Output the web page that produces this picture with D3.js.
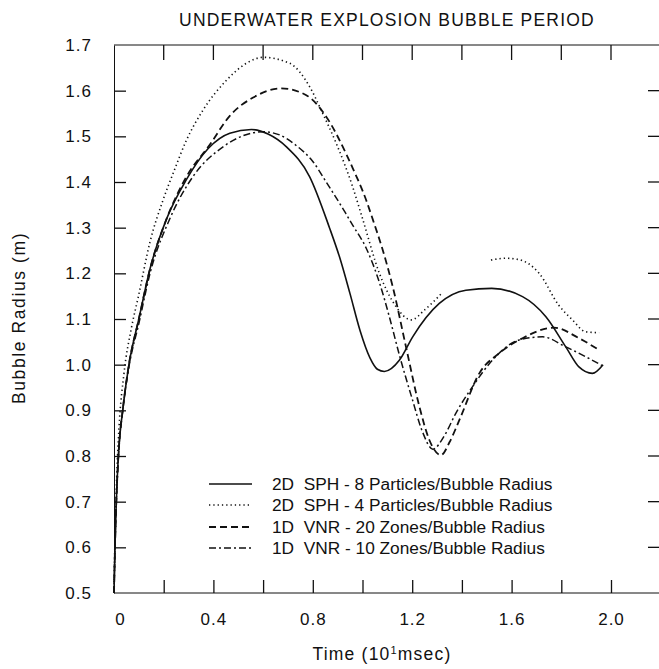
<!DOCTYPE html>
<html>
<head>
<meta charset="utf-8">
<script src="https://cdn.jsdelivr.net/npm/d3@7"></script>
<style>
  body { margin: 0; background: #fff; }
  svg { display: block; font-family: "Liberation Sans", Arial, sans-serif; }
</style>
</head>
<body>
<svg width="659" height="669"></svg>
<script>
// values: [time (10^1 msec), bubble radius (m)]
var sph8 = [[0,0.5],[0.004,0.6],[0.008,0.68],[0.013,0.75],[0.02,0.82],[0.035,0.9],[0.06,1.0],[0.1,1.1],[0.145,1.21],[0.21,1.317],[0.29,1.404],[0.38,1.474],[0.466,1.507],[0.553,1.515],[0.62,1.505],[0.694,1.477],[0.787,1.412],[0.867,1.30],[0.908,1.235],[0.95,1.155],[0.99,1.075],[1.03,1.015],[1.06,0.99],[1.088,0.985],[1.149,1.01],[1.202,1.061],[1.309,1.134],[1.416,1.163],[1.52,1.167],[1.644,1.149],[1.738,1.105],[1.818,1.039],[1.871,0.995],[1.925,0.981],[1.968,1.0]];
var sph4 = [[0,0.5],[0.004,0.62],[0.01,0.74],[0.02,0.86],[0.04,0.98],[0.07,1.08],[0.098,1.149],[0.145,1.269],[0.197,1.36],[0.238,1.419],[0.292,1.492],[0.359,1.558],[0.453,1.623],[0.533,1.66],[0.6,1.673],[0.707,1.66],[0.787,1.609],[0.84,1.55],[0.894,1.485],[0.96,1.39],[1.0,1.32],[1.068,1.2],[1.135,1.127],[1.196,1.098],[1.25,1.12],[1.32,1.157],[1.42,null],[1.517,1.229],[1.577,1.233],[1.63,1.23],[1.711,1.2],[1.79,1.13],[1.845,1.098],[1.898,1.072],[1.952,1.07]];
var vnr20 = [[0,0.5],[0.004,0.6],[0.008,0.68],[0.013,0.75],[0.02,0.82],[0.035,0.9],[0.06,1.0],[0.1,1.1],[0.145,1.21],[0.21,1.317],[0.29,1.41],[0.386,1.482],[0.466,1.545],[0.56,1.585],[0.673,1.605],[0.774,1.59],[0.854,1.543],[0.934,1.462],[0.961,1.43],[1.015,1.36],[1.042,1.317],[1.082,1.25],[1.122,1.17],[1.175,1.039],[1.229,0.908],[1.269,0.835],[1.316,0.802],[1.35,0.83],[1.39,0.879],[1.47,0.981],[1.55,1.025],[1.644,1.058],[1.771,1.081],[1.871,1.058],[1.952,1.032]];
var vnr10 = [[0,0.5],[0.004,0.6],[0.008,0.68],[0.013,0.75],[0.02,0.82],[0.035,0.9],[0.06,0.995],[0.1,1.09],[0.145,1.2],[0.225,1.32],[0.318,1.412],[0.439,1.477],[0.6,1.51],[0.667,1.503],[0.733,1.48],[0.8,1.445],[0.854,1.40],[0.934,1.33],[0.961,1.305],[1.015,1.255],[1.068,1.18],[1.108,1.105],[1.149,1.02],[1.2,0.925],[1.24,0.855],[1.283,0.815],[1.33,0.845],[1.376,0.894],[1.443,0.952],[1.523,1.01],[1.63,1.054],[1.724,1.061],[1.818,1.039],[1.965,0.998]];

var legendLabels = [
  "2D  SPH - 8 Particles/Bubble Radius",
  "2D  SPH - 4 Particles/Bubble Radius",
  "1D  VNR - 20 Zones/Bubble Radius",
  "1D  VNR - 10 Zones/Bubble Radius"
];
var xLabelTicks = [0, 0.4, 0.8, 1.2, 1.6, 2.0];

function drawChart() {
  var svg = d3.select("svg");
  var m = { left: 114, right: 660.7, top: 45, bottom: 593 };

  var x = d3.scaleLinear().domain([0, 2.2]).range([m.left, m.right]);
  var y = d3.scaleLinear().domain([0.5, 1.7]).range([m.bottom, m.top]);

  var ink = "#111";
  var font = "Liberation Sans, Arial, sans-serif";

  // top frame line
  svg.append("line").attr("x1", m.left).attr("x2", 659).attr("y1", m.top).attr("y2", m.top)
    .attr("stroke", ink).attr("stroke-width", 1);

  // bottom axis, ticks pointing inward
  var xAxis = svg.append("g").attr("transform", "translate(0," + m.bottom + ")")
    .call(d3.axisBottom(x).tickValues(d3.range(0, 2.21, 0.2)).tickSizeInner(-13).tickSizeOuter(0)
      .tickPadding(20)
      .tickFormat(function (d) {
        var hit = xLabelTicks.find(function (v) { return Math.abs(v - d) < 1e-6; });
        return hit === undefined ? "" : (hit === 0 ? "0" : d3.format(".1f")(hit));
      }));
  xAxis.select(".domain").attr("stroke", ink).attr("d", "M" + m.left + ",0H659");
  xAxis.selectAll("line").attr("stroke", ink).attr("stroke-width", 1.3);
  xAxis.selectAll("text").attr("font-size", 17).attr("letter-spacing", 1).attr("fill", ink).attr("font-family", font);
  xAxis.selectAll(".tick").filter(function (d) { return d === 0; }).select("line").remove();
  xAxis.selectAll(".tick").filter(function (d) { return d === 0; }).select("text").attr("dx", 6);

  // top ticks
  svg.append("g").selectAll("line").data(d3.range(0.2, 2.21, 0.2)).join("line")
    .attr("x1", function (d) { return x(d); }).attr("x2", function (d) { return x(d); })
    .attr("y1", m.top).attr("y2", m.top + 15).attr("stroke", ink).attr("stroke-width", 1.3);

  // left axis
  var yAxis = svg.append("g").attr("transform", "translate(" + m.left + ",0)")
    .call(d3.axisLeft(y).tickValues(d3.range(0.5, 1.71, 0.1)).tickSizeInner(-12).tickSizeOuter(0)
      .tickPadding(22).tickFormat(d3.format(".1f")));
  yAxis.select(".domain").attr("stroke", ink);
  yAxis.selectAll("line").attr("stroke", ink).attr("stroke-width", 1.3);
  yAxis.selectAll("text").attr("font-size", 17).attr("letter-spacing", 1).attr("fill", ink).attr("font-family", font);
  yAxis.selectAll(".tick").filter(function (d) { return Math.abs(d - 0.5) < 1e-6 || Math.abs(d - 1.7) < 1e-6; })
    .select("line").remove();

  // right ticks
  svg.append("g").selectAll("line").data(d3.range(0.6, 1.65, 0.1)).join("line")
    .attr("x1", 648).attr("x2", 659)
    .attr("y1", function (d) { return y(d); }).attr("y2", function (d) { return y(d); })
    .attr("stroke", ink).attr("stroke-width", 1.3);

  // curves
  var line = d3.line()
    .defined(function (d) { return d[1] !== null; })
    .x(function (d) { return x(d[0]); })
    .y(function (d) { return y(d[1]); })
    .curve(d3.curveMonotoneX);

  var series = [
    { data: sph8, dash: null, width: 1.6 },
    { data: sph4, dash: "1.3,3", width: 1.6 },
    { data: vnr20, dash: "7,4", width: 1.8 },
    { data: vnr10, dash: "7,3,2,3", width: 1.5 }
  ];

  svg.append("g").selectAll("path").data(series).join("path")
    .attr("d", function (s) { return line(s.data); })
    .attr("fill", "none")
    .attr("stroke", ink)
    .attr("stroke-width", function (s) { return s.width; })
    .attr("stroke-dasharray", function (s) { return s.dash; });

  // legend
  var legend = svg.append("g");
  var rowY = [484, 505, 527, 548];
  series.forEach(function (s, i) {
    legend.append("line").attr("x1", 209).attr("x2", 252).attr("y1", rowY[i]).attr("y2", rowY[i])
      .attr("stroke", ink).attr("stroke-width", s.width).attr("stroke-dasharray", s.dash);
    legend.append("text").attr("x", 272).attr("y", rowY[i]).attr("dy", "0.35em")
      .attr("font-size", 17.3).attr("fill", ink).style("white-space", "pre")
      .text(legendLabels[i]);
  });

  // titles
  svg.append("text").attr("x", 387).attr("y", 26).attr("text-anchor", "middle")
    .attr("font-size", 17.5).attr("letter-spacing", 1.2).attr("fill", ink)
    .text("UNDERWATER EXPLOSION BUBBLE PERIOD");

  svg.append("text").attr("transform", "translate(25,318) rotate(-90)").attr("text-anchor", "middle")
    .attr("font-size", 17.5).attr("letter-spacing", 1.6).attr("fill", ink).text("Bubble Radius (m)");

  var xt = svg.append("text").attr("x", 382).attr("y", 660).attr("text-anchor", "middle")
    .attr("font-size", 17.5).attr("letter-spacing", 1.2).attr("fill", ink);
  xt.append("tspan").text("Time (10");
  xt.append("tspan").attr("font-size", 11).attr("dy", -6).text("1");
  xt.append("tspan").attr("dy", 6).text("msec)");
}

drawChart();
</script>
</body>
</html>
